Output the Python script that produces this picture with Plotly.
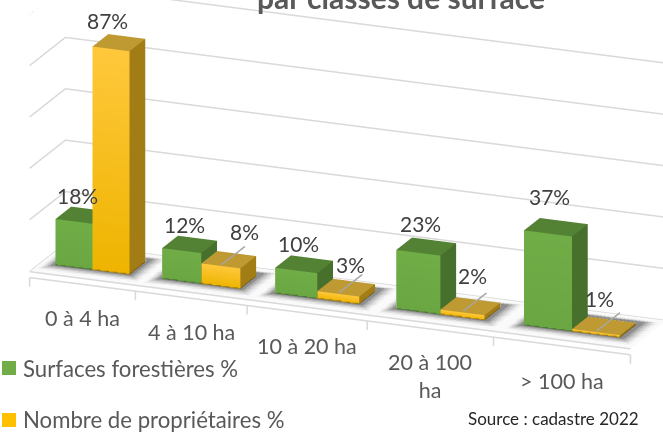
import plotly.graph_objects as go

categories = ["0 à 4 ha", "4 à 10 ha", "10 à 20 ha", "20 à 100<br>ha", "> 100 ha"]
surfaces = [18, 12, 10, 23, 37]
proprietaires = [87, 8, 3, 2, 1]
grid_levels = [20, 40, 60, 80, 100]
series_names = ["Surfaces forestières %", "Nombre de propriétaires %"]
title_text = "par classes de surface"
source_text = "Source : cadastre 2022"

# foreshortened category edges along the x axis (the reference is drawn in perspective)
EDGES = [0, 0.88, 1.81, 2.81, 3.86, 5]

def wx(u):
    i = min(int(u), 4)
    return EDGES[i] + (u - i) * (EDGES[i + 1] - EDGES[i])

FONT = "Lato, Carlito, Calibri, sans-serif"
GREEN = dict(top="#548235", side="#47702c", f_hi="#70ad47", f_lo="#6aa743")
YELLOW = dict(top="#bf9a33", side="#a27c14", f_hi="#ffc83c", f_lo="#eeb400")
LIGHT = dict(ambient=1, diffuse=0, specular=0, roughness=1, fresnel=0)

def quad(v, c, X, Y, Z, I, J, K, C):
    n = len(X)
    for (a, b, d), col in zip(v, c):
        X.append(a); Y.append(b); Z.append(d); C.append(col)
    I += [n, n]; J += [n + 1, n + 2]; K += [n + 2, n + 3]

def bars(values, offset, pal, name):
    X, Y, Z, I, J, K, C = [], [], [], [], [], [], []
    for i, v in enumerate(values):
        x0, x1 = wx(i + offset), wx(i + offset + 0.35)
        y0, y1 = 0.28, 0.72
        quad([(x0, y0, 0), (x1, y0, 0), (x1, y0, v), (x0, y0, v)],
             [pal["f_lo"], pal["f_lo"], pal["f_hi"], pal["f_hi"]], X, Y, Z, I, J, K, C)
        quad([(x1, y0, 0), (x1, y1, 0), (x1, y1, v), (x1, y0, v)], [pal["side"]] * 4, X, Y, Z, I, J, K, C)
        quad([(x0, y0, v), (x1, y0, v), (x1, y1, v), (x0, y1, v)], [pal["top"]] * 4, X, Y, Z, I, J, K, C)
    return go.Mesh3d(x=X, y=Y, z=Z, i=I, j=J, k=K, vertexcolor=C, flatshading=True, name=name,
                     lighting=LIGHT, hoverinfo="skip")

def flat(x0, x1, y0, y1, z, color, opacity=1.0):
    return go.Mesh3d(x=[x0, x1, x1, x0], y=[y0, y0, y1, y1], z=[z] * 4, i=[0, 0], j=[1, 2], k=[2, 3],
                     color=color, opacity=opacity, flatshading=True, hoverinfo="skip", lighting=LIGHT)

def line(xs, ys, zs, color="#d9d9d9", width=3):
    return go.Scatter3d(x=xs, y=ys, z=zs, mode="lines", line=dict(color=color, width=width), hoverinfo="skip")

fig = go.Figure()
# floor
fig.add_trace(flat(0, 5, 0, 1, -0.2, "#fafafa"))
for e in EDGES:
    fig.add_trace(line([e, e], [0, 0], [-2.5, -6]))
fig.add_trace(line([0, 5], [0, 0], [-0.2, -0.2]))
fig.add_trace(line([0, 5], [0, 0], [-2.5, -2.5]))
fig.add_trace(line([0, 0], [0, 1], [-0.2, -0.2]))
# grid
for g in grid_levels:
    fig.add_trace(line([0, 0, 5], [0, 1, 1], [g, g, g]))
fig.add_trace(line([0, 5], [1, 1], [-0.2, -0.2]))
# shadows
for i in range(5):
    for n, (grow, op) in enumerate([(0.08, 0.06), (0.06, 0.09), (0.04, 0.13), (0.02, 0.18), (0.0, 0.25)]):
        fig.add_trace(flat(wx(i + 0.13) - grow, wx(i + 0.9) + grow, 0.2 - grow * 1.3, 0.8 + grow * 1.3,
                           0.05 + n * 0.15, "#303030", op))
fig.add_trace(bars(surfaces, 0.15, GREEN, series_names[0]))
fig.add_trace(bars(proprietaires, 0.5, YELLOW, series_names[1]))
# leaders
for i, v in enumerate(proprietaires):
    if v < 10:
        fig.add_trace(line([wx(i + 0.675)] * 2, [0.3, 0.95], [v + 0.2, v + 0.2], "#a6a6a6", 3))

YELLOW_DX = [-12, 15, 4, 2, -5]
GREEN_DY = [19, 19, 20, 22, 30]
YELLOW_DY = [22, 28, 23, 31, 28]
CAT_DY = [-14, -14, -14, -28, -16]
ann3d = []
for i, (a, b) in enumerate(zip(surfaces, proprietaires)):
    ann3d.append(dict(x=wx(i + 0.28), y=0.5, z=a, text=f"{a}%", showarrow=False, yshift=GREEN_DY[i],
                      font=dict(family=FONT, size=21, color="#404040")))
    ann3d.append(dict(x=wx(i + 0.68), y=0.5, z=b, text=f"{b}%", showarrow=False, xshift=YELLOW_DX[i],
                      yshift=YELLOW_DY[i], font=dict(family=FONT, size=21, color="#404040")))
for i, c in enumerate(categories):
    ann3d.append(dict(x=wx(i + 0.5), y=0, z=-10, text=c, showarrow=False, yshift=CAT_DY[i],
                      font=dict(family=FONT, size=21.5, color="#595959")))

fig.update_layout(
    width=663, height=432, autosize=False, margin=dict(l=0, r=0, t=0, b=0),
    paper_bgcolor="white", showlegend=False,
    scene=dict(
        domain=dict(x=[0, 1], y=[0, 1]),
        xaxis=dict(visible=False, range=[0, 5]),
        yaxis=dict(visible=False, range=[0, 1]),
        zaxis=dict(visible=False, range=[-10, 100]),
        aspectmode="manual", aspectratio=dict(x=3.0, y=0.443, z=1.38),
        bgcolor="white",
        camera=dict(projection=dict(type="orthographic"),
                    eye=dict(x=0.476, y=-1.382, z=0.314), center=dict(x=-0.053, y=-0.072, z=-0.16), up=dict(x=0, y=0, z=1)),
        annotations=ann3d,
    ),
    shapes=[
        dict(type="rect", xref="paper", yref="paper", x0=2/663, x1=16/663, y0=1-375/432, y1=1-361/432,
             fillcolor="#70ad47", line=dict(width=0)),
        dict(type="rect", xref="paper", yref="paper", x0=2/663, x1=16/663, y0=1-427/432, y1=1-413/432,
             fillcolor="#ffc000", line=dict(width=0)),
    ],
    annotations=[
        dict(xref="paper", yref="paper", x=21/663, y=1-368/432, xanchor="left", yanchor="middle", showarrow=False,
             text=series_names[0], font=dict(family=FONT, size=22.2, color="#595959")),
        dict(xref="paper", yref="paper", x=21/663, y=1-419/432, xanchor="left", yanchor="middle", showarrow=False,
             text=series_names[1], font=dict(family=FONT, size=22.2, color="#595959")),
        dict(xref="paper", yref="paper", x=641/663, y=1-418/432, xanchor="right", yanchor="middle", showarrow=False,
             text=source_text, font=dict(family=FONT, size=17, color="#262626")),
        dict(xref="paper", yref="paper", x=401/663, y=1+3/432, xanchor="center", yanchor="middle", showarrow=False,
             text=f"<b>{title_text}</b>", font=dict(family=FONT, size=30, color="#595959")),
    ],
)
fig.write_html("out.html", post_script="document.body.style.margin='0';", config={"displayModeBar": False})
